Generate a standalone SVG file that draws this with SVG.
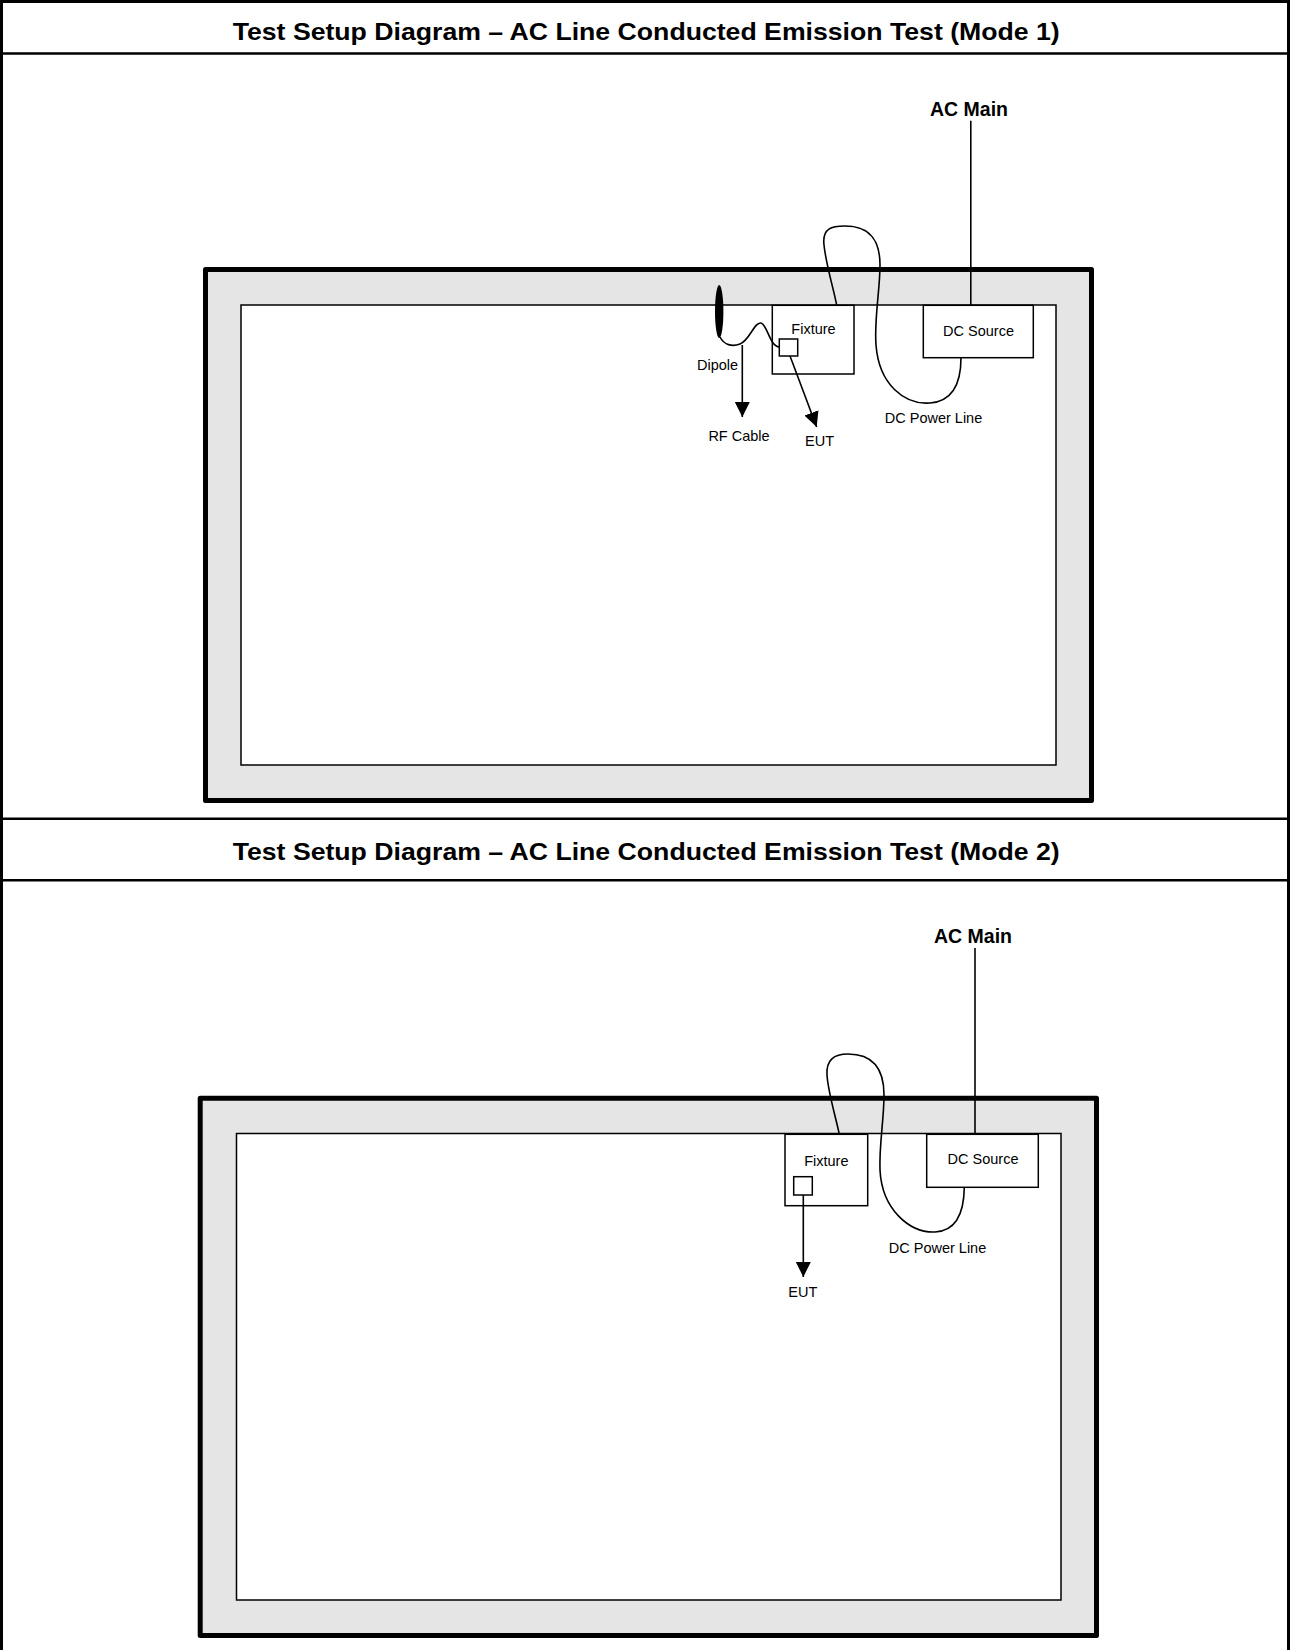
<svg xmlns="http://www.w3.org/2000/svg" width="1290" height="1650" viewBox="0 0 1290 1650">
<style>
.title{font-family:"Liberation Sans",Arial,sans-serif;font-weight:bold;font-size:24px;fill:#000}
.acm{font-family:"Liberation Sans",Arial,sans-serif;font-weight:bold;font-size:19.5px;fill:#000}
.lbl{font-family:"Liberation Sans",Arial,sans-serif;font-size:14.5px;fill:#000}
.plate{fill:#e5e5e5;stroke:#000;stroke-width:5;stroke-linejoin:round}
.table{fill:#fff;stroke:#000;stroke-width:1.5}
.box{fill:#fff;stroke:#000;stroke-width:1.5}
.wire{fill:none;stroke:#000;stroke-width:1.6}
.sep{stroke:#000;stroke-width:2.6}
</style>
<defs>
<marker id="arr" markerUnits="userSpaceOnUse" markerWidth="16" markerHeight="16" refX="15" refY="7.5" orient="auto">
<path d="M0,0 L15,7.5 L0,15 Z" fill="#000"/>
</marker>
</defs>
<rect x="0" y="0" width="1290" height="1650" fill="#fff"/>
<g id="frame">
<rect x="1.5" y="1.5" width="1287" height="1652" fill="none" stroke="#000" stroke-width="3"/>
<line class="sep" x1="0" y1="53.5" x2="1290" y2="53.5"/>
<line class="sep" x1="0" y1="818.7" x2="1290" y2="818.7"/>
<line class="sep" x1="0" y1="880.3" x2="1290" y2="880.3"/>
<text class="title" x="232.7" y="40" textLength="827" lengthAdjust="spacingAndGlyphs">Test Setup Diagram – AC Line Conducted Emission Test (Mode 1)</text>
<text class="title" x="232.7" y="860" textLength="827" lengthAdjust="spacingAndGlyphs">Test Setup Diagram – AC Line Conducted Emission Test (Mode 2)</text>
</g>
<!-- Mode 1 -->
<g id="m1-plate">
<rect class="plate" x="205.5" y="269.5" width="886" height="531"/>
<rect class="table" x="241" y="305" width="815" height="460"/>
</g>
<g id="m1-acmain">
<text class="acm" x="969" y="115.7" text-anchor="middle">AC Main</text>
</g>
<g id="m1-dcsource">
<rect class="box" x="923.3" y="305.3" width="110" height="52.4"/>
<text class="lbl" x="978.5" y="336" text-anchor="middle">DC Source</text>
</g>
<g id="m1-fixture">
<rect class="box" x="772.3" y="305.3" width="81.7" height="68.7"/>
<text class="lbl" x="813.5" y="334.3" text-anchor="middle">Fixture</text>
<rect class="box" x="779.3" y="339" width="18.4" height="17"/>
</g>
<g id="m1-dipole">
<ellipse cx="719.2" cy="311.5" rx="4.2" ry="26.5" fill="#000"/>
<text class="lbl" x="717.5" y="370" text-anchor="middle">Dipole</text>
</g>
<g id="m1-rfcable"><text class="lbl" x="739" y="440.7" text-anchor="middle">RF Cable</text></g>
<g id="m1-eut"><text class="lbl" x="819.5" y="446" text-anchor="middle">EUT</text></g>
<g id="m1-dcline"><text class="lbl" x="933.5" y="422.7" text-anchor="middle">DC Power Line</text></g>
<g id="m1-connectors">
<line class="wire" x1="970.8" y1="120.7" x2="970.8" y2="305.3"/>
<path class="wire" d="M720,337 C724,345 732,347 740,344 C750,340 754,322 761,323 C767,324 770,347 779.3,347"/>
<line class="wire" x1="742.3" y1="345" x2="742.3" y2="417" marker-end="url(#arr)"/>
<line class="wire" x1="790" y1="356" x2="816.7" y2="427" marker-end="url(#arr)"/>
<path class="wire" d="M836.7,305.3 C834,290 826,265 824,245 C822,228 832,226 845,226 C870,226 880,240 880,265 C880,290 874,320 876,345 C879,385 905,405 930,403 C955,401 961,380 961,357.7"/>
</g>
<!-- Mode 2 -->
<g id="m2-plate">
<rect class="plate" x="200.2" y="1098.2" width="896.3" height="537.3"/>
<rect class="table" x="236.5" y="1133.5" width="824.5" height="466.5"/>
</g>
<g id="m2-acmain">
<text class="acm" x="973" y="943" text-anchor="middle">AC Main</text>
</g>
<g id="m2-dcsource">
<rect class="box" x="926.7" y="1134.3" width="111.6" height="53"/>
<text class="lbl" x="983" y="1164.3" text-anchor="middle">DC Source</text>
</g>
<g id="m2-fixture">
<rect class="box" x="785" y="1134.3" width="82.7" height="71.4"/>
<text class="lbl" x="826.3" y="1165.7" text-anchor="middle">Fixture</text>
<rect class="box" x="793.7" y="1176.7" width="18.6" height="18.3"/>
</g>
<g id="m2-eut"><text class="lbl" x="802.8" y="1297.3" text-anchor="middle">EUT</text></g>
<g id="m2-dcline"><text class="lbl" x="937.5" y="1252.7" text-anchor="middle">DC Power Line</text></g>
<g id="m2-connectors">
<line class="wire" x1="975" y1="948" x2="975" y2="1134.3"/>
<line class="wire" x1="803.3" y1="1195" x2="803.3" y2="1277" marker-end="url(#arr)"/>
<path class="wire" d="M839.3,1134.3 C836,1118 828,1092 827,1075 C826,1060 834,1054 848,1054 C872,1054 884,1068 884,1095 C884,1120 879,1145 880,1170 C882,1210 910,1233 935,1232 C958,1231 964,1210 964.3,1187.3"/>
</g>
</svg>
